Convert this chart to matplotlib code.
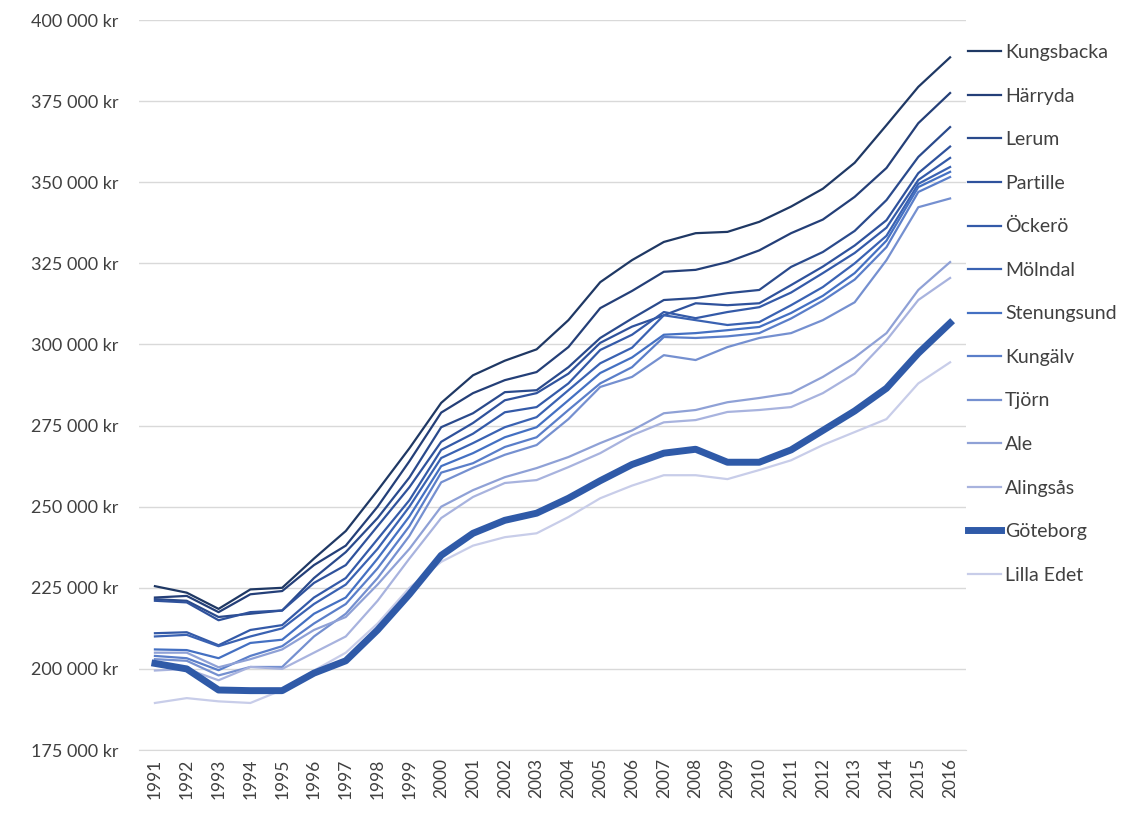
import matplotlib
matplotlib.use('Agg')
import matplotlib.pyplot as plt
from matplotlib.ticker import FuncFormatter, MultipleLocator

plt.rcParams['font.family'] = ['Lato', 'DejaVu Sans']

years = list(range(1991, 2017))

# values in thousands of kronor (scaled on plot)
kungsbacka = [225.5, 223.5, 218.5, 224.5, 225, 234, 242.5, 255, 268, 282, 290.5, 295, 298.5,
              307.5, 319.2, 326, 331.6, 334.3, 334.7, 337.8, 342.5, 348, 356, 367.6, 379.4, 388.5]
harryda = [222, 222.5, 217.5, 223, 224, 232, 238, 250, 264, 279, 285, 289, 291.5,
           299.2, 311.2, 316.5, 322.4, 323, 325.4, 329, 334.3, 338.5, 345.5, 354.4, 368.2, 377.5]
lerum = [221.5, 221, 216, 217, 218, 228, 236, 246.5, 259, 274.5, 278.8, 285.3, 285.9,
         293, 302, 308, 313.7, 314.3, 315.8, 316.8, 323.9, 328.5, 335, 344.5, 357.8, 367]
partille = [221, 220.5, 215, 217.5, 218, 226.5, 232, 244, 256, 270, 275.8, 282.8, 285,
            291, 300.5, 305.5, 309, 312.7, 312.1, 312.7, 318.3, 324, 330.5, 338.3, 352.8, 361]
ockero = [211, 211.3, 207.3, 212, 213.5, 222, 228, 240, 252, 267.5, 272.5, 279.1, 280.7,
          288, 298.3, 303, 310, 308.1, 310, 311.5, 316, 322, 328.2, 336, 350.7, 357.5]
molndal = [210, 210.5, 207, 210, 212.5, 220, 226, 237, 250, 265, 269.6, 274.5, 277.6,
           285.9, 294.2, 299, 309, 307.5, 306, 306.9, 312.1, 317.7, 325, 333.5, 349.5, 354.7]
stenungsund = [206, 205.8, 203.3, 208, 209, 217, 222, 234, 247, 262.5, 266.5, 271.4, 274.5,
               282.8, 291.2, 296, 303, 303.5, 304.4, 305.4, 309.7, 315, 322, 332, 348.5, 353.2]
kungalv = [204, 203.3, 199.6, 204, 207, 214, 220, 231, 244, 260.5, 263.4, 268.4, 271.4,
           279.8, 288, 293, 302.3, 302, 302.5, 303.5, 308, 313.5, 320, 330, 347, 351.6]
tjorn = [203, 202.5, 198, 200.6, 200.6, 210, 217, 228, 241, 257.5, 262, 266, 269,
         277, 286.9, 290, 296.7, 295.2, 299.2, 302, 303.5, 307.5, 313, 326, 342.3, 345]
ale = [205, 205, 200.5, 203, 206, 212, 216, 226, 237, 250, 255.1, 259.1, 261.9,
       265.3, 269.6, 273.5, 278.8, 279.8, 282.2, 283.5, 285, 290, 296, 303.5, 316.8, 325.4]
alingsas = [199.5, 200, 196.5, 200.6, 200, 205, 210, 221, 234, 246.5, 253, 257.3, 258.2,
            262.2, 266.5, 272, 276, 276.7, 279.2, 279.8, 280.7, 285, 291, 301.3, 313.7, 320.5]
goteborg = [201.7, 200, 193.5, 193.3, 193.3, 198.7, 202.5, 212, 223, 235, 241.8, 245.8, 248,
            252.6, 258, 263, 266.5, 267.7, 263.7, 263.7, 267.5, 273.5, 279.5, 286.5, 297.3, 306.6]
lilla_edet = [189.5, 191, 190, 189.5, 193.5, 199.5, 205, 214, 225, 233, 238, 240.6, 241.8,
              246.8, 252.6, 256.5, 259.7, 259.7, 258.5, 261.3, 264.3, 269, 273, 277, 288, 294.5]

names = ['Kungsbacka', 'Härryda', 'Lerum', 'Partille', 'Öckerö', 'Mölndal', 'Stenungsund',
         'Kungälv', 'Tjörn', 'Ale', 'Alingsås', 'Göteborg', 'Lilla Edet']
series = [kungsbacka, harryda, lerum, partille, ockero, molndal, stenungsund,
          kungalv, tjorn, ale, alingsas, goteborg, lilla_edet]
colors = ['#1f3864', '#243f78', '#2a4a8c', '#2f529c', '#345aa8', '#3a62b2', '#4470c2',
          '#5a7ec9', '#7590d0', '#8fa1d6', '#a8b3de', '#2f5aa8', '#c8cde9']
widths = [1.6] * 11 + [5.0, 1.6]

TXT, GRID = '#404040', '#d9d9d9'

fig = plt.figure(figsize=(11.35, 8.14), dpi=100)
ax = fig.add_axes([0.1225, 0.0786, 0.7286, 0.8968])

for name, vals, col, lw in zip(names, series, colors, widths):
    ax.plot(years, [v * 1000 for v in vals], color=col, lw=lw, label=name,
            solid_joinstyle='round', zorder=3 if name == 'Göteborg' else 2)

ax.set_xlim(1990.5, 2016.5)
ax.set_ylim(175000, 400000)
ax.yaxis.set_major_locator(MultipleLocator(25000))
ax.yaxis.set_major_formatter(FuncFormatter(lambda v, p: f'{int(v):,} kr'.replace(',', ' ')))
ax.set_xticks(years)
ax.set_xticklabels([str(y) for y in years], rotation=90)

ax.grid(axis='y', color=GRID, lw=1)
ax.set_axisbelow(True)
for s in ('top', 'right', 'left'):
    ax.spines[s].set_visible(False)
ax.spines['bottom'].set_color(GRID)
ax.tick_params(axis='y', length=0, pad=15, labelsize=13, colors=TXT)
ax.tick_params(axis='x', length=0, pad=6, labelsize=12.5, colors=TXT)

fig.legend(loc='upper left', bbox_to_anchor=(968 / 1135, 1 - 44 / 814), frameon=False,
           fontsize=14, labelspacing=1.365, handlelength=1.7, handletextpad=0.2,
           labelcolor=TXT, borderaxespad=0, borderpad=0)

fig.savefig('out.png', dpi=100, facecolor='white')
